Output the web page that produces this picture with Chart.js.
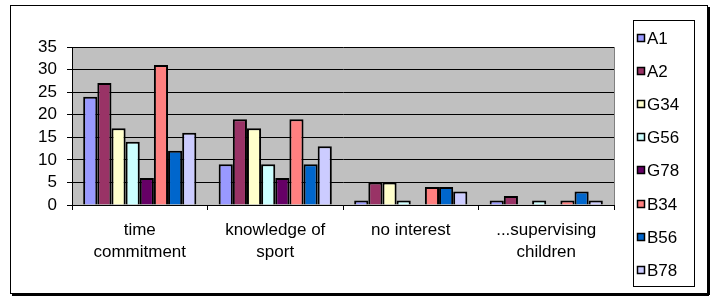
<!DOCTYPE html>
<html>
<head>
<meta charset="utf-8">
<script src="https://cdn.jsdelivr.net/npm/chart.js@4.4.1/dist/chart.umd.min.js"></script>
<style>
html,body{margin:0;padding:0;background:#fff;}
#wrap{position:relative;width:715px;height:296px;}
</style>
</head>
<body>
<div id="wrap"><canvas id="c" width="715" height="296"></canvas></div>
<script>
const categories = [["time","commitment"], ["knowledge of","sport"], "no interest", ["...supervising","children"]];
const seriesNames = ["A1","A2","G34","G56","G78","B34","B56","B78"];
const seriesColors = ["#9999FF","#993366","#FFFFCC","#CCFFFF","#660066","#FF8080","#0066CC","#CCCCFF"];
const A1  = [24, 9, 1, 1];
const A2  = [27, 19, 5, 2];
const G34 = [17, 17, 5, 0];
const G56 = [14, 9, 1, 1];
const G78 = [6, 6, 0, 0];
const B34 = [31, 19, 4, 1];
const B56 = [12, 9, 4, 3];
const B78 = [16, 13, 3, 1];
const seriesValues = [A1, A2, G34, G56, G78, B34, B56, B78];
const yTicks = [0, 5, 10, 15, 20, 25, 30, 35];

const FONT = "'Liberation Sans', Arial, sans-serif";

const frame = {
  id: 'frame',
  beforeDraw(chart) {
    const ctx = chart.ctx, a = chart.chartArea;
    ctx.save();
    ctx.fillStyle = '#fff';
    ctx.fillRect(0, 0, chart.width, chart.height);
    ctx.fillStyle = '#C0C0C0';
    ctx.fillRect(a.left, a.top, a.right - a.left, a.bottom - a.top);
    ctx.restore();
  },
  afterDraw(chart) {
    const ctx = chart.ctx, a = chart.chartArea;
    ctx.save();
    ctx.strokeStyle = '#808080';
    ctx.lineWidth = 1;
    ctx.beginPath();
    ctx.moveTo(a.right + 0.5, a.top);
    ctx.lineTo(a.right + 0.5, a.bottom);
    ctx.stroke();
    // outer border
    ctx.strokeStyle = '#000';
    ctx.strokeRect(10.5, 5.5, 697, 288);
    ctx.lineWidth = 2;
    ctx.beginPath();
    ctx.moveTo(709, 7);
    ctx.lineTo(709, 295);
    ctx.moveTo(12, 295);
    ctx.lineTo(709, 295);
    ctx.stroke();
    // legend
    ctx.lineWidth = 1;
    ctx.strokeRect(633.5, 20.5, 61, 266);
    ctx.font = '17px ' + FONT;
    ctx.textBaseline = 'middle';
    ctx.textAlign = 'left';
    chart.data.datasets.forEach((ds, i) => {
      const cy = Math.round(38 + i * 33.1);
      ctx.fillStyle = ds.backgroundColor;
      ctx.fillRect(637.5, cy - 3.5, 7, 7);
      ctx.strokeStyle = '#000';
      ctx.lineWidth = 1.5;
      ctx.strokeRect(637.5, cy - 3.5, 7, 7);
      ctx.fillStyle = '#000';
      ctx.fillText(ds.label, 647, cy + 1);
    });
    ctx.restore();
  }
};

new Chart(document.getElementById('c'), {
  type: 'bar',
  data: {
    labels: categories,
    datasets: seriesNames.map((n, i) => ({
      label: n,
      data: seriesValues[i],
      backgroundColor: seriesColors[i],
      borderColor: '#000',
      borderWidth: (ctx) => (ctx.raw === 0 ? 0 : 2),
      borderSkipped: 'bottom',
      categoryPercentage: 0.835,
      barPercentage: 1.0
    }))
  },
  options: {
    responsive: false,
    animation: false,
    devicePixelRatio: 1,
    layout: { padding: { left: 10, right: 101, top: 47, bottom: 10 } },
    plugins: { legend: { display: false }, tooltip: { enabled: false } },
    scales: {
      x: {
        offset: true,
        grid: { offset: true, drawOnChartArea: false, drawTicks: true, tickLength: 5, color: '#000' },
        border: { color: '#000', width: 1 },
        ticks: { color: '#000', font: { family: FONT, size: 17, lineHeight: 1.27 }, padding: 10, maxRotation: 0, autoSkip: false },
        afterFit(s) { s.height = 81; }
      },
      y: {
        min: 0, max: 35,
        afterBuildTicks(s) { s.ticks = yTicks.map(v => ({ value: v })); },
        grid: { color: '#000', tickLength: 5, lineWidth: 1 },
        border: { color: '#000', width: 1 },
        ticks: { color: '#000', font: { family: FONT, size: 17 }, padding: 10, autoSkip: false, stepSize: 5 },
        afterFit(s) { s.width = 62; }
      }
    }
  },
  plugins: [frame]
});
</script>
</body>
</html>
